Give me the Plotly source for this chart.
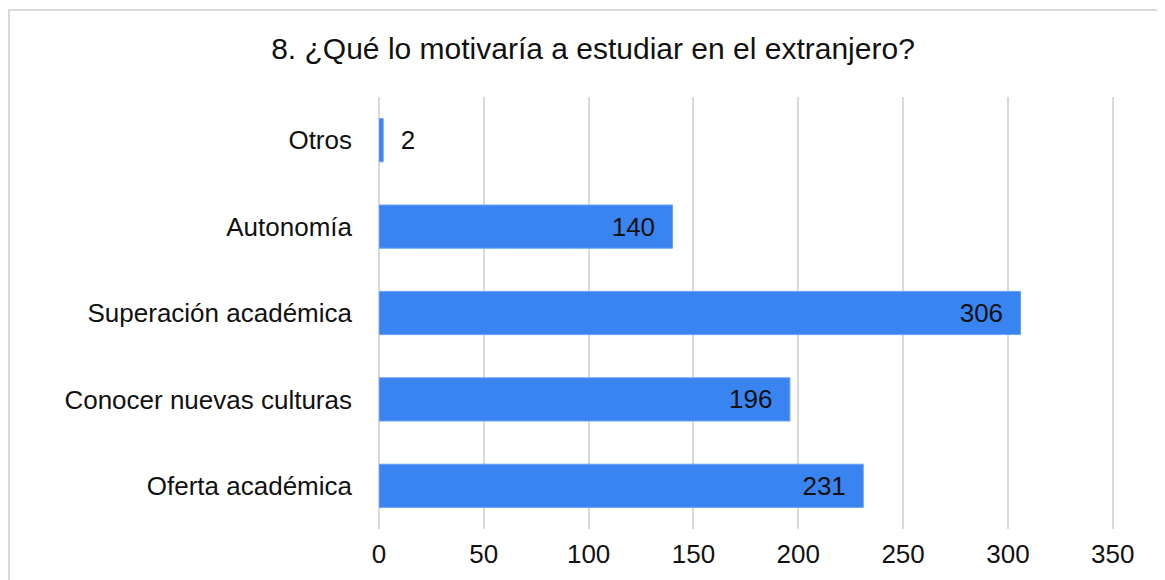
import plotly.graph_objects as go

# data, bottom to top
categorias = ["Oferta académica", "Conocer nuevas culturas", "Superación académica",
              "Autonomía", "Otros"]
respuestas = [231, 196, 306, 140, 2]
x_ticks = [0, 50, 100, 150, 200, 250, 300, 350]

titulo = "8. ¿Qué lo motivaría a estudiar en el extranjero?"

# the page body adds 8px, so positions are taken 8px less
W, H = 1165, 580
left, right, top, bottom = 371, 59, 89, 59
pw = W - left - right
ph = H - top - bottom

# small bars get their label outside, the rest inside at the end
pos = ["outside" if v < 20 else "inside" for v in respuestas]
tmpl = ["  %{x}" if p == "outside" else "%{x}  " for p in pos]

fig = go.Figure()
fig.add_trace(go.Bar(
    x=respuestas,
    y=categorias,
    orientation="h",
    width=0.5,
    marker=dict(color="#3a84f2", line=dict(color="#6aa0f7", width=1)),
    textposition=pos,
    texttemplate=tmpl,
    insidetextanchor="end",
    textfont=dict(family="Liberation Sans", size=26, color="#111111"),
    cliponaxis=False,
    showlegend=False,
))

# outer frame of the chart
fig.add_shape(type="rect", xref="paper", yref="paper",
              x0=(1 - left) / pw, x1=1.2, y0=-0.3, y1=(H - bottom - 2) / ph,
              line=dict(color="#d9d9d9", width=2), layer="below")

fig.update_layout(
    width=W, height=H,
    margin=dict(l=left, r=right, t=top, b=bottom),
    plot_bgcolor="white",
    paper_bgcolor="white",
    font=dict(family="Liberation Sans", color="#111111"),
    title=dict(text=titulo, x=585 / W, xanchor="center", y=1 - 40 / H, yanchor="middle",
               font=dict(size=30, color="#111111")),
    uniformtext=dict(minsize=26, mode="show"),
    xaxis=dict(range=[0, 350.6], tickvals=x_ticks, showgrid=True, gridcolor="#d9d9d9",
               gridwidth=2, zeroline=True, zerolinecolor="#d9d9d9", zerolinewidth=2,
               showline=False, ticks="", tickfont=dict(size=26),
               ticklabelstandoff=7),
    yaxis=dict(categoryorder="array", categoryarray=categorias, showgrid=False,
               showline=False, ticks="", tickfont=dict(size=26),
               ticklabelstandoff=26, range=[-0.5, 4.5]),
)

fig.write_html("out.html")
